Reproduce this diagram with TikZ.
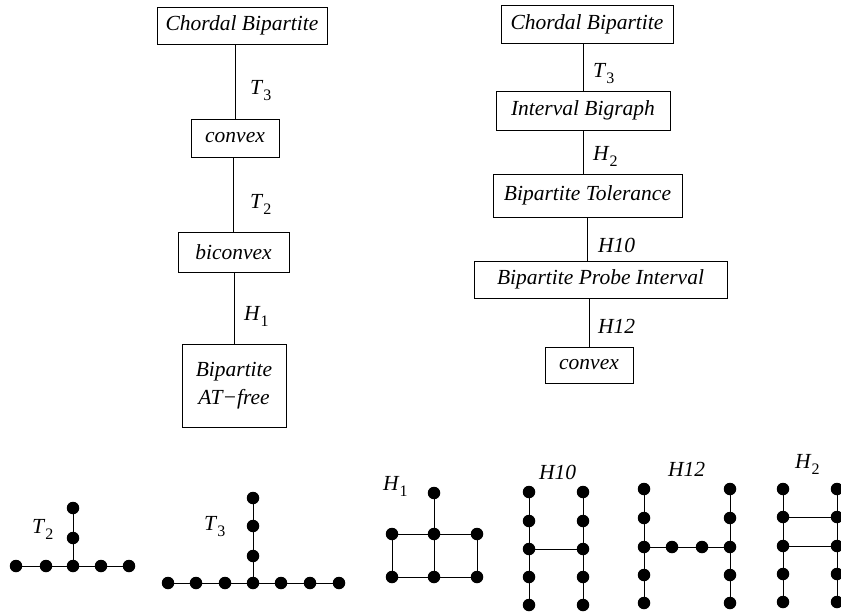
\documentclass[tikz,border=0pt]{standalone}
\usepackage{fontspec}
\setmainfont{Liberation Serif}
\newcommand\lblsub[2]{\textit{#1}\raisebox{-0.3em}{\fontsize{16}{16}\selectfont #2}}
\begin{document}
\begin{tikzpicture}[x=1pt,y=-1pt,
  box/.style={draw, line width=0.9pt, inner sep=0pt, font=\fontsize{21.5}{28}\selectfont\itshape, align=center},
  conn/.style={line width=0.8pt},
  lab/.style={font=\fontsize{21.5}{26}\selectfont, inner sep=0pt, anchor=base west},
  vtx/.style={circle, fill, inner sep=0pt, minimum size=12.5pt},
  edg/.style={line width=0.9pt}]
\useasboundingbox (0,0) rectangle (841,614);

% left chain
\node[box, minimum width=170pt, minimum height=37pt] (lc1) at (242,25.5) {Chordal Bipartite};
\node[box, minimum width=88pt, minimum height=38pt] (lc2) at (235,138) {convex};
\node[box, minimum width=111pt, minimum height=40pt] (lc3) at (233.5,252) {biconvex};
\node[box, minimum width=104pt, minimum height=83pt] (lc4) at (234,385.5) {Bipartite\\AT−free};
\draw[conn] (lc1.south -| lc2.north) -- (lc2.north);
\draw[conn] (lc2.south -| lc3.north) -- (lc3.north);
\draw[conn] (lc3.south -| lc4.north) -- (lc4.north);
\node[lab] (l1) at (250,94) {\lblsub{T}{3}};
\node[lab] (l2) at (250,208) {\lblsub{T}{2}};
\node[lab] (l3) at (244,320) {\lblsub{H}{1}};

% right chain
\node[box, minimum width=172pt, minimum height=38pt] (rc1) at (587,24) {Chordal Bipartite};
\node[box, minimum width=174pt, minimum height=39pt] (rc2) at (583,110.5) {Interval Bigraph};
\node[box, minimum width=189pt, minimum height=43pt] (rc3) at (587.5,195.5) {Bipartite Tolerance};
\node[box, minimum width=253pt, minimum height=37pt] (rc4) at (600.5,279.5) {Bipartite Probe Interval};
\node[box, minimum width=88pt, minimum height=36pt] (rc5) at (589,365) {convex};
\draw[conn] (rc1.south -| rc2.north) -- (rc2.north);
\draw[conn] (rc2.south) -- (rc2.south |- rc3.north);
\draw[conn] (rc3.south) -- (rc3.south |- rc4.north);
\draw[conn] (rc4.south -| rc5.north) -- (rc5.north);
\node[lab] (r1) at (593,77) {\lblsub{T}{3}};
\node[lab] (r2) at (593,160) {\lblsub{H}{2}};
\node[lab] (r3) at (598,252) {\textit{H10}};
\node[lab] (r4) at (598,333) {\textit{H12}};

% T2
\foreach \n/\x/\y in {a/16/566, b/46/566, c/73/566, d/101/566, e/129/566, f/73/538, g/73/508}
  \node[vtx] (t2\n) at (\x,\y) {};
\draw[edg] (t2a) -- (t2b) -- (t2c) -- (t2d) -- (t2e);
\draw[edg] (t2c) -- (t2f) -- (t2g);
\node[lab] (gt2) at (32,533) {\lblsub{T}{2}};

% T3
\foreach \n/\x/\y in {a/168/583, b/196/583, c/225/583, d/253/583, e/281/583, f/310/583, g/339/583, h/253/556, i/253/526, j/253/498}
  \node[vtx] (t3\n) at (\x,\y) {};
\draw[edg] (t3a) -- (t3b) -- (t3c) -- (t3d) -- (t3e) -- (t3f) -- (t3g);
\draw[edg] (t3d) -- (t3h) -- (t3i) -- (t3j);
\node[lab] (gt3) at (204,530) {\lblsub{T}{3}};

% H1
\foreach \n/\x/\y in {a/392/534, b/434/534, c/477/534, d/392/577, e/434/577, f/477/577, g/434/493}
  \node[vtx] (h1\n) at (\x,\y) {};
\draw[edg] (h1a) -- (h1b) -- (h1c) -- (h1f) -- (h1e) -- (h1d) -- (h1a);
\draw[edg] (h1g) -- (h1b) -- (h1e);
\node[lab] (gh1) at (383,490) {\lblsub{H}{1}};

% H10
\foreach \n/\y in {1/492, 2/521, 3/549, 4/577, 5/605} {
  \node[vtx] (ha\n) at (529,\y) {};
  \node[vtx] (hb\n) at (583,\y) {};
}
\draw[edg] (ha1) -- (ha2) -- (ha3) -- (ha4) -- (ha5);
\draw[edg] (hb1) -- (hb2) -- (hb3) -- (hb4) -- (hb5);
\draw[edg] (ha3) -- (hb3);
\node[lab] (gh10) at (539,479) {\textit{H10}};

% H12
\foreach \n/\y in {1/489, 2/518, 3/547, 4/575, 5/603} {
  \node[vtx] (hc\n) at (644,\y) {};
  \node[vtx] (hd\n) at (730,\y) {};
}
\node[vtx] (hm1) at (672,547) {};
\node[vtx] (hm2) at (702,547) {};
\draw[edg] (hc1) -- (hc2) -- (hc3) -- (hc4) -- (hc5);
\draw[edg] (hd1) -- (hd2) -- (hd3) -- (hd4) -- (hd5);
\draw[edg] (hc3) -- (hm1) -- (hm2) -- (hd3);
\node[lab] (gh12) at (668,476) {\textit{H12}};

% H2
\foreach \n/\y in {1/489, 2/517, 3/546, 4/574, 5/602} {
  \node[vtx] (he\n) at (783,\y) {};
  \node[vtx] (hf\n) at (837,\y) {};
}
\draw[edg] (he1) -- (he2) -- (he3) -- (he4) -- (he5);
\draw[edg] (hf1) -- (hf2) -- (hf3) -- (hf4) -- (hf5);
\draw[edg] (he2) -- (hf2);
\draw[edg] (he3) -- (hf3);
\node[lab] (gh2) at (795,468) {\lblsub{H}{2}};
\end{tikzpicture}
\end{document}
